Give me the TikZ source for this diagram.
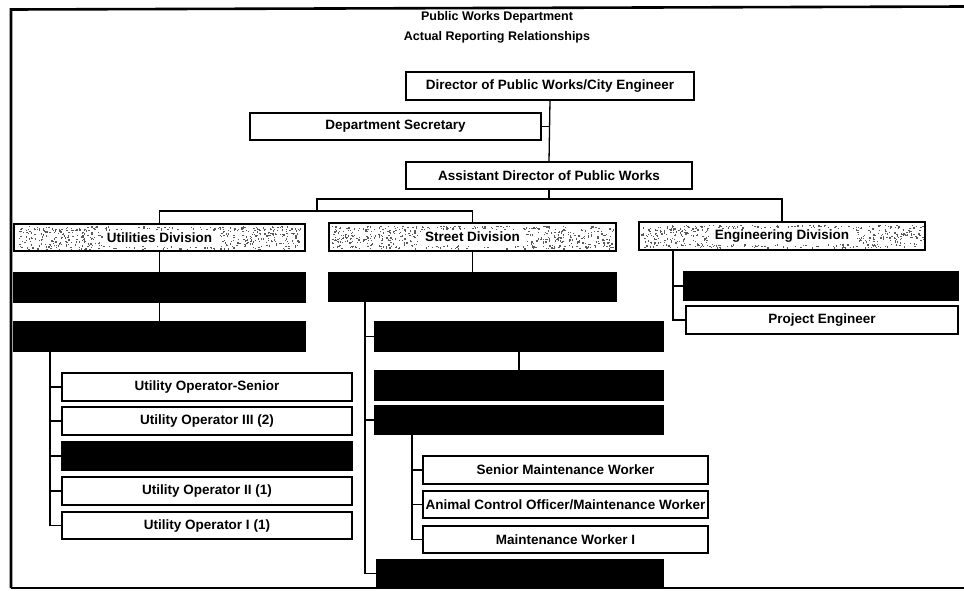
\documentclass[tikz,border=0pt]{standalone}
\usepackage{fontspec}
\setmainfont{Liberation Sans}
\usetikzlibrary{calc}
\begin{document}
\begin{tikzpicture}[x=1pt,y=-1pt,
  every node/.style={inner sep=0pt, outer sep=0pt},
  lbl/.style={font=\bfseries\fontsize{13.5}{15}\selectfont},
  post/.style={draw=black, line width=1.5pt, fill=white, anchor=north west, lbl},
  hidden/.style={post, fill=black},
  link/.style={line width=1.3pt},
  frame/.style={line width=2.6pt}]
\useasboundingbox (0,0) rectangle (964,590);

% page frame
\draw[frame] (964,6.5) -- (11,9.5) -- (11,588);
\draw[line width=2pt] (11,588) -- (964,588);

% heading
\node[lbl, font=\bfseries\fontsize{12.5}{14}\selectfont] (title1) at (497,17) {Public Works Department};
\node[lbl, font=\bfseries\fontsize{12.5}{14}\selectfont] (title2) at (497,37) {Actual Reporting Relationships};

% top management
\node[post, minimum width=288pt, minimum height=28pt] (dir)  at (406,72)  {Director of Public Works/City Engineer};
\node[post, minimum width=291pt, minimum height=27pt] (sec)  at (250,113) {Department Secretary};
\node[post, minimum width=286pt, minimum height=27pt] (asst) at (406,162) {Assistant Director of Public Works};

% divisions
\node[post, minimum width=291pt, minimum height=27pt] (util)   at (14,224)  {Utilities Division};
\node[post, minimum width=287pt, minimum height=28pt] (street) at (329,223) {Street Division};
\node[post, minimum width=286pt, minimum height=28pt] (eng)    at (639,222) {Engineering Division};

% stippled shading of the division boxes, leaving the title clear
\pgfmathsetseed{2718}
\foreach \b/\tw in {util/58,street/52,eng/74}{
  \foreach \i in {1,...,650}{
    \pgfmathsetmacro\px{rand*141}
    \pgfmathsetmacro\py{rand*11.5}
    \pgfmathsetmacro\keep{(abs(\px)>\tw || abs(\py)>8) ? 1 : 0}
    \ifdim\keep pt>0.5pt
      \fill[black!65] ($(\b.center)+(\px,\py)$) rectangle ++(1.3,1.3);
    \fi
  }
}

% utilities division
\node[hidden, minimum width=291pt, minimum height=29pt] (u1) at (14,273) {};
\node[hidden, minimum width=291pt, minimum height=29pt] (u2) at (14,322) {};
\node[post, minimum width=290pt, minimum height=28pt] (uos) at (62,373) {Utility Operator-Senior};
\node[post, minimum width=290pt, minimum height=28pt] (uo3) at (62,407) {Utility Operator III (2)};
\node[hidden, minimum width=290pt, minimum height=28pt] (ub) at (62,442) {};
\node[post, minimum width=290pt, minimum height=28pt] (uo2) at (62,477) {Utility Operator II (1)};
\node[post, minimum width=290pt, minimum height=27pt] (uo1) at (62,512) {Utility Operator I (1)};

% street division
\node[hidden, minimum width=287pt, minimum height=28pt] (s1) at (329,273) {};
\node[hidden, minimum width=288pt, minimum height=29pt] (s2) at (375,322) {};
\node[hidden, minimum width=288pt, minimum height=29pt] (s3) at (375,371) {};
\node[hidden, minimum width=288pt, minimum height=28pt] (s4) at (375,406) {};
\node[post, minimum width=285pt, minimum height=28pt] (smw) at (423,456) {Senior Maintenance Worker};
\node[post, minimum width=285pt, minimum height=27pt] (aco) at (423,491) {Animal Control Officer/Maintenance Worker};
\node[post, minimum width=285pt, minimum height=27pt] (mw1) at (423,526) {Maintenance Worker I};
\node[hidden, minimum width=286pt, minimum height=27pt] (s5) at (377,560) {};

% engineering division
\node[hidden, minimum width=274pt, minimum height=28pt] (e1) at (684,272) {};
\node[post, minimum width=272pt, minimum height=28pt] (pe) at (686,306) {Project Engineer};

% branch points
\coordinate (hubA) at (317,199);
\coordinate (hubB) at (317,211);
\coordinate (ubus) at (50,351);
\coordinate (sbus) at (365,301);
\coordinate (mbus) at (412,434);
\coordinate (ebus) at (673,250);

% reporting lines
\draw[link] (dir.south) -- (asst.north);
\draw[link] (sec.east) -- (sec.east -| dir.south);
\draw[link] (asst.south) |- (hubA) -- (hubB);
\draw[link] (asst.south) -- ++(0,10) -| (eng.north);
\draw[link] (hubB) -| (util.north);
\draw[link] (hubB) -| (street.north);

\draw[link] (util.south) -- (u1.north);
\draw[link] (u1.south) -- (u2.north);
\foreach \n in {uos,uo3,ub,uo2,uo1} \draw[link] (ubus) |- (\n.west);

\draw[link] (street.south) -- (s1.north);
\foreach \n in {s2,s4,s5} \draw[link] (sbus) |- (\n.west);
\draw[link] (s2.south) -- (s3.north);
\foreach \n in {smw,aco,mw1} \draw[link] (mbus) |- (\n.west);

\foreach \n in {e1,pe} \draw[link] (ebus) |- (\n.west);
\end{tikzpicture}
\end{document}
